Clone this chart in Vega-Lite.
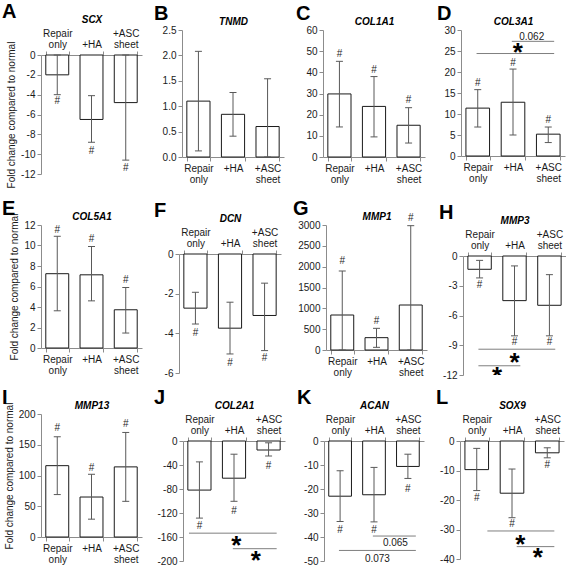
{
"$schema": "https://vega.github.io/schema/vega-lite/v6.json",
"background": "white",
"padding": {"left": 2, "top": 2, "right": 0, "bottom": 0},
"spacing": 8,
"vconcat": [
{"spacing": 11, "vconcat": [
{"spacing": 12, "hconcat": [
{"width": 101, "height": 144, "title": {"text": "A", "dx": -39},
 "resolve": {"axis": {"x": "independent", "y": "independent"}},
 "data": {"values": [
  {"g": "Repair only", "v": -2.0, "lo": -4.0, "hi": 0, "h": -4.6},
  {"g": "+HA", "v": -6.5, "lo": -8.8, "hi": -4.1, "h": -9.7},
  {"g": "+ASC sheet", "v": -4.8, "lo": -10.6, "hi": 0, "h": -11.4}]},
 "encoding": {"x": {"field": "g", "type": "nominal", "scale": {"domain": ["Repair only", "+HA", "+ASC sheet"], "paddingInner": 0.33, "paddingOuter": 0.14}, "axis": null}},
 "layer": [
  {"mark": {"type": "bar", "fill": "white", "stroke": "#1a1a1a", "strokeWidth": 1},
   "encoding": {"x": {"field": "g", "type": "nominal", "scale": {"domain": ["Repair only", "+HA", "+ASC sheet"], "paddingInner": 0.33, "paddingOuter": 0.14}, "axis": {"orient": "top", "offset": -25, "title": "SCX", "labelPadding": 13, "labelExpr": "datum.label == '+HA' ? ['', '+HA'] : split(datum.label, ' ')"}},
    "y": {"field": "v", "type": "quantitative", "scale": {"domain": [-12, 0], "nice": false, "range": [144, 25]}, "axis": {"values": [0, -2, -4, -6, -8, -10, -12], "labelExpr": "toString(datum.value)", "title": "Fold change compared to normal"}}}},
  {"mark": {"type": "rule", "color": "#595959", "strokeWidth": 1},
   "encoding": {"y": {"field": "lo", "type": "quantitative", "scale": {"domain": [-12, 0], "nice": false, "range": [144, 25]}, "axis": null}, "y2": {"field": "hi"}}},
  {"mark": {"type": "tick", "color": "#595959", "size": 7, "thickness": 1, "opacity": 1},
   "encoding": {"y": {"field": "lo", "type": "quantitative", "scale": {"domain": [-12, 0], "nice": false, "range": [144, 25]}, "axis": null}}},
  {"mark": {"type": "tick", "color": "#595959", "size": 7, "thickness": 1, "opacity": 1},
   "encoding": {"y": {"field": "hi", "type": "quantitative", "scale": {"domain": [-12, 0], "nice": false, "range": [144, 25]}, "axis": null}}},
  {"mark": {"type": "text", "fontSize": 10, "color": "#262626"},
   "encoding": {"y": {"field": "h", "type": "quantitative", "scale": {"domain": [-12, 0], "nice": false, "range": [144, 25]}, "axis": null}, "text": {"value": "#"}}}
 ]},
{"width": 102, "height": 127, "title": {"text": "B", "dx": -28},
 "resolve": {"axis": {"x": "independent", "y": "independent"}},
 "data": {"values": [
  {"g": "Repair only", "v": 1.1, "lo": 0.12, "hi": 2.08},
  {"g": "+HA", "v": 0.84, "lo": 0.41, "hi": 1.27},
  {"g": "+ASC sheet", "v": 0.6, "lo": 0, "hi": 1.54}]},
 "encoding": {"x": {"field": "g", "type": "nominal", "scale": {"domain": ["Repair only", "+HA", "+ASC sheet"], "paddingInner": 0.33, "paddingOuter": 0.14}, "axis": null}},
 "layer": [
  {"mark": {"type": "bar", "fill": "white", "stroke": "#1a1a1a", "strokeWidth": 1},
   "encoding": {"x": {"field": "g", "type": "nominal", "scale": {"domain": ["Repair only", "+HA", "+ASC sheet"], "paddingInner": 0.33, "paddingOuter": 0.14}, "axis": {"orient": "bottom", "title": null, "labelExpr": "split(datum.label, ' ')"}},
    "y": {"field": "v", "type": "quantitative", "scale": {"domain": [0, 2.5], "nice": false}, "axis": {"values": [0, 0.5, 1, 1.5, 2, 2.5], "labelExpr": "format(datum.value, '.1f')", "title": null}}}},
  {"mark": {"type": "rule", "color": "#595959", "strokeWidth": 1},
   "encoding": {"x": {"field": "g", "type": "nominal", "scale": {"domain": ["Repair only", "+HA", "+ASC sheet"], "paddingInner": 0.33, "paddingOuter": 0.14}, "axis": {"orient": "top", "title": "TNMD", "labels": false, "ticks": false, "domain": false}},
    "y": {"field": "lo", "type": "quantitative", "scale": {"domain": [0, 2.5], "nice": false}, "axis": null}, "y2": {"field": "hi"}}},
  {"mark": {"type": "tick", "color": "#595959", "size": 7, "thickness": 1, "opacity": 1},
   "encoding": {"y": {"field": "lo", "type": "quantitative", "scale": {"domain": [0, 2.5], "nice": false}, "axis": null}}},
  {"mark": {"type": "tick", "color": "#595959", "size": 7, "thickness": 1, "opacity": 1},
   "encoding": {"y": {"field": "hi", "type": "quantitative", "scale": {"domain": [0, 2.5], "nice": false}, "axis": null}}}
 ]},
{"width": 102, "height": 127, "title": {"text": "C", "dx": -27},
 "resolve": {"axis": {"x": "independent", "y": "independent"}},
 "data": {"values": [
  {"g": "Repair only", "v": 29.8, "lo": 14.2, "hi": 45.2, "h": 48.8},
  {"g": "+HA", "v": 23.9, "lo": 9.5, "hi": 38.0, "h": 41.3},
  {"g": "+ASC sheet", "v": 15.0, "lo": 6.6, "hi": 23.3, "h": 26.7}]},
 "encoding": {"x": {"field": "g", "type": "nominal", "scale": {"domain": ["Repair only", "+HA", "+ASC sheet"], "paddingInner": 0.33, "paddingOuter": 0.14}, "axis": null}},
 "layer": [
  {"mark": {"type": "bar", "fill": "white", "stroke": "#1a1a1a", "strokeWidth": 1},
   "encoding": {"x": {"field": "g", "type": "nominal", "scale": {"domain": ["Repair only", "+HA", "+ASC sheet"], "paddingInner": 0.33, "paddingOuter": 0.14}, "axis": {"orient": "bottom", "title": null, "labelExpr": "split(datum.label, ' ')"}},
    "y": {"field": "v", "type": "quantitative", "scale": {"domain": [0, 60], "nice": false}, "axis": {"values": [0, 10, 20, 30, 40, 50, 60], "labelExpr": "toString(datum.value)", "title": null}}}},
  {"mark": {"type": "rule", "color": "#595959", "strokeWidth": 1},
   "encoding": {"x": {"field": "g", "type": "nominal", "scale": {"domain": ["Repair only", "+HA", "+ASC sheet"], "paddingInner": 0.33, "paddingOuter": 0.14}, "axis": {"orient": "top", "title": "COL1A1", "labels": false, "ticks": false, "domain": false}},
    "y": {"field": "lo", "type": "quantitative", "scale": {"domain": [0, 60], "nice": false}, "axis": null}, "y2": {"field": "hi"}}},
  {"mark": {"type": "tick", "color": "#595959", "size": 7, "thickness": 1, "opacity": 1},
   "encoding": {"y": {"field": "lo", "type": "quantitative", "scale": {"domain": [0, 60], "nice": false}, "axis": null}}},
  {"mark": {"type": "tick", "color": "#595959", "size": 7, "thickness": 1, "opacity": 1},
   "encoding": {"y": {"field": "hi", "type": "quantitative", "scale": {"domain": [0, 60], "nice": false}, "axis": null}}},
  {"mark": {"type": "text", "fontSize": 10, "color": "#262626"},
   "encoding": {"y": {"field": "h", "type": "quantitative", "scale": {"domain": [0, 60], "nice": false}, "axis": null}, "text": {"value": "#"}}}
 ]},
{"width": 104, "height": 126, "title": {"text": "D", "dx": -24},
 "resolve": {"axis": {"x": "independent", "y": "independent"}},
 "data": {"values": [
  {"g": "Repair only", "v": 11.4, "lo": 6.9, "hi": 15.8, "h": 17.5},
  {"g": "+HA", "v": 12.8, "lo": 5.0, "hi": 20.7, "h": 22.2},
  {"g": "+ASC sheet", "v": 5.2, "lo": 3.2, "hi": 6.9, "h": 8.5}]},
 "encoding": {"x": {"field": "g", "type": "nominal", "scale": {"domain": ["Repair only", "+HA", "+ASC sheet"], "paddingInner": 0.33, "paddingOuter": 0.14}, "axis": null}},
 "layer": [
  {"mark": {"type": "bar", "fill": "white", "stroke": "#1a1a1a", "strokeWidth": 1},
   "encoding": {"x": {"field": "g", "type": "nominal", "scale": {"domain": ["Repair only", "+HA", "+ASC sheet"], "paddingInner": 0.33, "paddingOuter": 0.14}, "axis": {"orient": "bottom", "title": null, "labelExpr": "split(datum.label, ' ')"}},
    "y": {"field": "v", "type": "quantitative", "scale": {"domain": [0, 30], "nice": false}, "axis": {"values": [0, 5, 10, 15, 20, 25, 30], "labelExpr": "toString(datum.value)", "title": null}}}},
  {"mark": {"type": "rule", "color": "#595959", "strokeWidth": 1},
   "encoding": {"x": {"field": "g", "type": "nominal", "scale": {"domain": ["Repair only", "+HA", "+ASC sheet"], "paddingInner": 0.33, "paddingOuter": 0.14}, "axis": {"orient": "top", "title": "COL3A1", "labels": false, "ticks": false, "domain": false}},
    "y": {"field": "lo", "type": "quantitative", "scale": {"domain": [0, 30], "nice": false}, "axis": null}, "y2": {"field": "hi"}}},
  {"mark": {"type": "tick", "color": "#595959", "size": 7, "thickness": 1, "opacity": 1},
   "encoding": {"y": {"field": "lo", "type": "quantitative", "scale": {"domain": [0, 30], "nice": false}, "axis": null}}},
  {"mark": {"type": "tick", "color": "#595959", "size": 7, "thickness": 1, "opacity": 1},
   "encoding": {"y": {"field": "hi", "type": "quantitative", "scale": {"domain": [0, 30], "nice": false}, "axis": null}}},
  {"mark": {"type": "text", "fontSize": 10, "color": "#262626"},
   "encoding": {"y": {"field": "h", "type": "quantitative", "scale": {"domain": [0, 30], "nice": false}, "axis": null}, "text": {"value": "#"}}},
  {"data": {"values": [{"a": "Repair only", "b": "+ASC sheet", "y": 24.4}, {"a": "+HA", "b": "+ASC sheet", "y": 27.3}]},
   "mark": {"type": "rule", "color": "#7f7f7f", "strokeWidth": 1},
   "encoding": {"x": {"field": "a", "type": "nominal", "scale": {"domain": ["Repair only", "+HA", "+ASC sheet"], "paddingInner": 0.33, "paddingOuter": 0.14}, "axis": null, "bandPosition": 0.45}, "x2": {"field": "b", "bandPosition": 0.75},
    "y": {"field": "y", "type": "quantitative", "scale": {"domain": [0, 30], "nice": false}, "axis": null}}},
  {"data": {"values": [{"a": "+HA", "y": 25.9, "t": "*"}]},
   "mark": {"type": "text", "fontSize": 26, "fontWeight": "bold", "dy": 6, "color": "#000000"},
   "encoding": {"x": {"field": "a", "type": "nominal", "scale": {"domain": ["Repair only", "+HA", "+ASC sheet"], "paddingInner": 0.33, "paddingOuter": 0.14}, "axis": null, "bandPosition": 0.7},
    "y": {"field": "y", "type": "quantitative", "scale": {"domain": [0, 30], "nice": false}, "axis": null}, "text": {"field": "t"}}},
  {"data": {"values": [{"a": "+ASC sheet", "y": 28.4, "t": "0.062"}]},
   "mark": {"type": "text", "fontSize": 10, "color": "#1a1a1a"},
   "encoding": {"x": {"field": "a", "type": "nominal", "scale": {"domain": ["Repair only", "+HA", "+ASC sheet"], "paddingInner": 0.33, "paddingOuter": 0.14}, "axis": null, "bandPosition": -0.2},
    "y": {"field": "y", "type": "quantitative", "scale": {"domain": [0, 30], "nice": false}, "axis": null}, "text": {"field": "t"}}}
 ]}
]},
{"spacing": 12, "hconcat": [
{"width": 101, "height": 123, "title": {"text": "E", "dx": -39},
 "resolve": {"axis": {"x": "independent", "y": "independent"}},
 "data": {"values": [
  {"g": "Repair only", "v": 7.25, "lo": 3.63, "hi": 10.9, "h": 11.5},
  {"g": "+HA", "v": 7.14, "lo": 4.6, "hi": 9.9, "h": 10.6},
  {"g": "+ASC sheet", "v": 3.73, "lo": 1.46, "hi": 5.9, "h": 6.6}]},
 "encoding": {"x": {"field": "g", "type": "nominal", "scale": {"domain": ["Repair only", "+HA", "+ASC sheet"], "paddingInner": 0.33, "paddingOuter": 0.14}, "axis": null}},
 "layer": [
  {"mark": {"type": "bar", "fill": "white", "stroke": "#1a1a1a", "strokeWidth": 1},
   "encoding": {"x": {"field": "g", "type": "nominal", "scale": {"domain": ["Repair only", "+HA", "+ASC sheet"], "paddingInner": 0.33, "paddingOuter": 0.14}, "axis": {"orient": "bottom", "title": null, "labelExpr": "split(datum.label, ' ')"}},
    "y": {"field": "v", "type": "quantitative", "scale": {"domain": [0, 12], "nice": false}, "axis": {"values": [0, 2, 4, 6, 8, 10, 12], "labelExpr": "toString(datum.value)", "title": "Fold change compared to normal"}}}},
  {"mark": {"type": "rule", "color": "#595959", "strokeWidth": 1},
   "encoding": {"x": {"field": "g", "type": "nominal", "scale": {"domain": ["Repair only", "+HA", "+ASC sheet"], "paddingInner": 0.33, "paddingOuter": 0.14}, "axis": {"orient": "top", "title": "COL5A1", "labels": false, "ticks": false, "domain": false}},
    "y": {"field": "lo", "type": "quantitative", "scale": {"domain": [0, 12], "nice": false}, "axis": null}, "y2": {"field": "hi"}}},
  {"mark": {"type": "tick", "color": "#595959", "size": 7, "thickness": 1, "opacity": 1},
   "encoding": {"y": {"field": "lo", "type": "quantitative", "scale": {"domain": [0, 12], "nice": false}, "axis": null}}},
  {"mark": {"type": "tick", "color": "#595959", "size": 7, "thickness": 1, "opacity": 1},
   "encoding": {"y": {"field": "hi", "type": "quantitative", "scale": {"domain": [0, 12], "nice": false}, "axis": null}}},
  {"mark": {"type": "text", "fontSize": 10, "color": "#262626"},
   "encoding": {"y": {"field": "h", "type": "quantitative", "scale": {"domain": [0, 12], "nice": false}, "axis": null}, "text": {"value": "#"}}}
 ]},
{"width": 102, "height": 148, "title": {"text": "F", "dx": -25},
 "resolve": {"axis": {"x": "independent", "y": "independent"}},
 "data": {"values": [
  {"g": "Repair only", "v": -2.73, "lo": -3.53, "hi": -1.93, "h": -4.0},
  {"g": "+HA", "v": -3.74, "lo": -5.04, "hi": -2.43, "h": -5.5},
  {"g": "+ASC sheet", "v": -3.1, "lo": -4.87, "hi": -1.47, "h": -5.25}]},
 "encoding": {"x": {"field": "g", "type": "nominal", "scale": {"domain": ["Repair only", "+HA", "+ASC sheet"], "paddingInner": 0.33, "paddingOuter": 0.14}, "axis": null}},
 "layer": [
  {"mark": {"type": "bar", "fill": "white", "stroke": "#1a1a1a", "strokeWidth": 1},
   "encoding": {"x": {"field": "g", "type": "nominal", "scale": {"domain": ["Repair only", "+HA", "+ASC sheet"], "paddingInner": 0.33, "paddingOuter": 0.14}, "axis": {"orient": "top", "offset": -29, "title": "DCN", "labelPadding": 13, "labelExpr": "datum.label == '+HA' ? ['', '+HA'] : split(datum.label, ' ')"}},
    "y": {"field": "v", "type": "quantitative", "scale": {"domain": [-6, 0], "nice": false, "range": [148, 29]}, "axis": {"values": [0, -2, -4, -6], "labelExpr": "toString(datum.value)", "title": null}}}},
  {"mark": {"type": "rule", "color": "#595959", "strokeWidth": 1},
   "encoding": {"y": {"field": "lo", "type": "quantitative", "scale": {"domain": [-6, 0], "nice": false, "range": [148, 29]}, "axis": null}, "y2": {"field": "hi"}}},
  {"mark": {"type": "tick", "color": "#595959", "size": 7, "thickness": 1, "opacity": 1},
   "encoding": {"y": {"field": "lo", "type": "quantitative", "scale": {"domain": [-6, 0], "nice": false, "range": [148, 29]}, "axis": null}}},
  {"mark": {"type": "tick", "color": "#595959", "size": 7, "thickness": 1, "opacity": 1},
   "encoding": {"y": {"field": "hi", "type": "quantitative", "scale": {"domain": [-6, 0], "nice": false, "range": [148, 29]}, "axis": null}}},
  {"mark": {"type": "text", "fontSize": 10, "color": "#262626"},
   "encoding": {"y": {"field": "h", "type": "quantitative", "scale": {"domain": [-6, 0], "nice": false, "range": [148, 29]}, "axis": null}, "text": {"value": "#"}}}
 ]},
{"width": 101, "height": 125, "title": {"text": "G", "dx": -33},
 "resolve": {"axis": {"x": "independent", "y": "independent"}},
 "data": {"values": [
  {"g": "Repair only", "v": 840, "lo": 0, "hi": 1896, "h": 2136},
  {"g": "+HA", "v": 296, "lo": 64, "hi": 520, "h": 700},
  {"g": "+ASC sheet", "v": 1080, "lo": 0, "hi": 2984, "h": 3170}]},
 "encoding": {"x": {"field": "g", "type": "nominal", "scale": {"domain": ["Repair only", "+HA", "+ASC sheet"], "paddingInner": 0.33, "paddingOuter": 0.14}, "axis": null}},
 "layer": [
  {"mark": {"type": "bar", "fill": "white", "stroke": "#1a1a1a", "strokeWidth": 1},
   "encoding": {"x": {"field": "g", "type": "nominal", "scale": {"domain": ["Repair only", "+HA", "+ASC sheet"], "paddingInner": 0.33, "paddingOuter": 0.14}, "axis": {"orient": "bottom", "title": null, "labelExpr": "split(datum.label, ' ')"}},
    "y": {"field": "v", "type": "quantitative", "scale": {"domain": [0, 3000], "nice": false}, "axis": {"values": [0, 500, 1000, 1500, 2000, 2500, 3000], "labelExpr": "toString(datum.value)", "title": null}}}},
  {"mark": {"type": "rule", "color": "#595959", "strokeWidth": 1},
   "encoding": {"x": {"field": "g", "type": "nominal", "scale": {"domain": ["Repair only", "+HA", "+ASC sheet"], "paddingInner": 0.33, "paddingOuter": 0.14}, "axis": {"orient": "top", "title": "MMP1", "labels": false, "ticks": false, "domain": false}},
    "y": {"field": "lo", "type": "quantitative", "scale": {"domain": [0, 3000], "nice": false}, "axis": null}, "y2": {"field": "hi"}}},
  {"mark": {"type": "tick", "color": "#595959", "size": 7, "thickness": 1, "opacity": 1},
   "encoding": {"y": {"field": "lo", "type": "quantitative", "scale": {"domain": [0, 3000], "nice": false}, "axis": null}}},
  {"mark": {"type": "tick", "color": "#595959", "size": 7, "thickness": 1, "opacity": 1},
   "encoding": {"y": {"field": "hi", "type": "quantitative", "scale": {"domain": [0, 3000], "nice": false}, "axis": null}}},
  {"mark": {"type": "text", "fontSize": 10, "color": "#262626"},
   "encoding": {"y": {"field": "h", "type": "quantitative", "scale": {"domain": [0, 3000], "nice": false}, "axis": null}, "text": {"value": "#"}}}
 ]},
{"width": 103, "height": 150, "title": {"text": "H", "dx": -24},
 "resolve": {"axis": {"x": "independent", "y": "independent"}},
 "data": {"values": [
  {"g": "Repair only", "v": -1.34, "lo": -2.21, "hi": -0.44, "h": -2.95},
  {"g": "+HA", "v": -4.5, "lo": -8.05, "hi": -1.0, "h": -8.7},
  {"g": "+ASC sheet", "v": -4.97, "lo": -8.05, "hi": -1.88, "h": -8.7}]},
 "encoding": {"x": {"field": "g", "type": "nominal", "scale": {"domain": ["Repair only", "+HA", "+ASC sheet"], "paddingInner": 0.33, "paddingOuter": 0.14}, "axis": null}},
 "layer": [
  {"mark": {"type": "bar", "fill": "white", "stroke": "#1a1a1a", "strokeWidth": 1},
   "encoding": {"x": {"field": "g", "type": "nominal", "scale": {"domain": ["Repair only", "+HA", "+ASC sheet"], "paddingInner": 0.33, "paddingOuter": 0.14}, "axis": {"orient": "top", "offset": -31, "title": "MMP3", "labelPadding": 13, "labelExpr": "datum.label == '+HA' ? ['', '+HA'] : split(datum.label, ' ')"}},
    "y": {"field": "v", "type": "quantitative", "scale": {"domain": [-12, 0], "nice": false, "range": [150, 31]}, "axis": {"values": [0, -3, -6, -9, -12], "labelExpr": "toString(datum.value)", "title": null}}}},
  {"mark": {"type": "rule", "color": "#595959", "strokeWidth": 1},
   "encoding": {"y": {"field": "lo", "type": "quantitative", "scale": {"domain": [-12, 0], "nice": false, "range": [150, 31]}, "axis": null}, "y2": {"field": "hi"}}},
  {"mark": {"type": "tick", "color": "#595959", "size": 7, "thickness": 1, "opacity": 1},
   "encoding": {"y": {"field": "lo", "type": "quantitative", "scale": {"domain": [-12, 0], "nice": false, "range": [150, 31]}, "axis": null}}},
  {"mark": {"type": "tick", "color": "#595959", "size": 7, "thickness": 1, "opacity": 1},
   "encoding": {"y": {"field": "hi", "type": "quantitative", "scale": {"domain": [-12, 0], "nice": false, "range": [150, 31]}, "axis": null}}},
  {"mark": {"type": "text", "fontSize": 10, "color": "#262626"},
   "encoding": {"y": {"field": "h", "type": "quantitative", "scale": {"domain": [-12, 0], "nice": false, "range": [150, 31]}, "axis": null}, "text": {"value": "#"}}},
  {"data": {"values": [{"a": "Repair only", "b": "+ASC sheet", "y": -9.4}, {"a": "Repair only", "b": "+HA", "y": -11.07}]},
   "mark": {"type": "rule", "color": "#7f7f7f", "strokeWidth": 1},
   "encoding": {"x": {"field": "a", "type": "nominal", "scale": {"domain": ["Repair only", "+HA", "+ASC sheet"], "paddingInner": 0.33, "paddingOuter": 0.14}, "axis": null, "bandPosition": 0.45}, "x2": {"field": "b", "bandPosition": 0.75},
    "y": {"field": "y", "type": "quantitative", "scale": {"domain": [-12, 0], "nice": false, "range": [150, 31]}, "axis": null}}},
  {"data": {"values": [{"a": "+HA", "y": -10.2, "t": "*"}]},
   "mark": {"type": "text", "fontSize": 26, "fontWeight": "bold", "dy": 6, "color": "#000000", "clip": true},
   "encoding": {"x": {"field": "a", "type": "nominal", "scale": {"domain": ["Repair only", "+HA", "+ASC sheet"], "paddingInner": 0.33, "paddingOuter": 0.14}, "axis": null, "bandPosition": 0.5},
    "y": {"field": "y", "type": "quantitative", "scale": {"domain": [-12, 0], "nice": false, "range": [150, 31]}, "axis": null}, "text": {"field": "t"}}},
  {"data": {"values": [{"a": "+HA", "y": -11.6, "t": "*"}]},
   "mark": {"type": "text", "fontSize": 26, "fontWeight": "bold", "dy": 6, "color": "#000000", "clip": true},
   "encoding": {"x": {"field": "a", "type": "nominal", "scale": {"domain": ["Repair only", "+HA", "+ASC sheet"], "paddingInner": 0.33, "paddingOuter": 0.14}, "axis": null, "bandPosition": -0.25},
    "y": {"field": "y", "type": "quantitative", "scale": {"domain": [-12, 0], "nice": false, "range": [150, 31]}, "axis": null}, "text": {"field": "t"}}}
 ]}
]}
]},
{"spacing": 12, "hconcat": [
{"width": 101, "height": 123, "title": {"text": "I", "dx": -39},
 "resolve": {"axis": {"x": "independent", "y": "independent"}},
 "data": {"values": [
  {"g": "Repair only", "v": 116, "lo": 69, "hi": 163, "h": 178},
  {"g": "+HA", "v": 65, "lo": 29, "hi": 102, "h": 113},
  {"g": "+ASC sheet", "v": 114, "lo": 58, "hi": 170, "h": 183}]},
 "encoding": {"x": {"field": "g", "type": "nominal", "scale": {"domain": ["Repair only", "+HA", "+ASC sheet"], "paddingInner": 0.33, "paddingOuter": 0.14}, "axis": null}},
 "layer": [
  {"mark": {"type": "bar", "fill": "white", "stroke": "#1a1a1a", "strokeWidth": 1},
   "encoding": {"x": {"field": "g", "type": "nominal", "scale": {"domain": ["Repair only", "+HA", "+ASC sheet"], "paddingInner": 0.33, "paddingOuter": 0.14}, "axis": {"orient": "bottom", "title": null, "labelExpr": "split(datum.label, ' ')"}},
    "y": {"field": "v", "type": "quantitative", "scale": {"domain": [0, 200], "nice": false}, "axis": {"values": [0, 50, 100, 150, 200], "labelExpr": "toString(datum.value)", "title": "Fold change compared to normal"}}}},
  {"mark": {"type": "rule", "color": "#595959", "strokeWidth": 1},
   "encoding": {"x": {"field": "g", "type": "nominal", "scale": {"domain": ["Repair only", "+HA", "+ASC sheet"], "paddingInner": 0.33, "paddingOuter": 0.14}, "axis": {"orient": "top", "title": "MMP13", "labels": false, "ticks": false, "domain": false}},
    "y": {"field": "lo", "type": "quantitative", "scale": {"domain": [0, 200], "nice": false}, "axis": null}, "y2": {"field": "hi"}}},
  {"mark": {"type": "tick", "color": "#595959", "size": 7, "thickness": 1, "opacity": 1},
   "encoding": {"y": {"field": "lo", "type": "quantitative", "scale": {"domain": [0, 200], "nice": false}, "axis": null}}},
  {"mark": {"type": "tick", "color": "#595959", "size": 7, "thickness": 1, "opacity": 1},
   "encoding": {"y": {"field": "hi", "type": "quantitative", "scale": {"domain": [0, 200], "nice": false}, "axis": null}}},
  {"mark": {"type": "text", "fontSize": 10, "color": "#262626"},
   "encoding": {"y": {"field": "h", "type": "quantitative", "scale": {"domain": [0, 200], "nice": false}, "axis": null}, "text": {"value": "#"}}}
 ]},
{"width": 102, "height": 147, "title": {"text": "J", "dx": -29},
 "resolve": {"axis": {"x": "independent", "y": "independent"}},
 "data": {"values": [
  {"g": "Repair only", "v": -81.8, "lo": -128.5, "hi": -34.8, "h": -142},
  {"g": "+HA", "v": -62, "lo": -100.5, "hi": -22, "h": -116},
  {"g": "+ASC sheet", "v": -15, "lo": -25, "hi": -3, "h": -41}]},
 "encoding": {"x": {"field": "g", "type": "nominal", "scale": {"domain": ["Repair only", "+HA", "+ASC sheet"], "paddingInner": 0.33, "paddingOuter": 0.14}, "axis": null}},
 "layer": [
  {"mark": {"type": "bar", "fill": "white", "stroke": "#1a1a1a", "strokeWidth": 1},
   "encoding": {"x": {"field": "g", "type": "nominal", "scale": {"domain": ["Repair only", "+HA", "+ASC sheet"], "paddingInner": 0.33, "paddingOuter": 0.14}, "axis": {"orient": "top", "offset": -27, "title": "COL2A1", "labelPadding": 13, "labelExpr": "datum.label == '+HA' ? ['', '+HA'] : split(datum.label, ' ')"}},
    "y": {"field": "v", "type": "quantitative", "scale": {"domain": [-200, 0], "nice": false, "range": [147, 27]}, "axis": {"values": [0, -40, -80, -120, -160, -200], "labelExpr": "toString(datum.value)", "title": null}}}},
  {"mark": {"type": "rule", "color": "#595959", "strokeWidth": 1},
   "encoding": {"y": {"field": "lo", "type": "quantitative", "scale": {"domain": [-200, 0], "nice": false, "range": [147, 27]}, "axis": null}, "y2": {"field": "hi"}}},
  {"mark": {"type": "tick", "color": "#595959", "size": 7, "thickness": 1, "opacity": 1},
   "encoding": {"y": {"field": "lo", "type": "quantitative", "scale": {"domain": [-200, 0], "nice": false, "range": [147, 27]}, "axis": null}}},
  {"mark": {"type": "tick", "color": "#595959", "size": 7, "thickness": 1, "opacity": 1},
   "encoding": {"y": {"field": "hi", "type": "quantitative", "scale": {"domain": [-200, 0], "nice": false, "range": [147, 27]}, "axis": null}}},
  {"mark": {"type": "text", "fontSize": 10, "color": "#262626"},
   "encoding": {"y": {"field": "h", "type": "quantitative", "scale": {"domain": [-200, 0], "nice": false, "range": [147, 27]}, "axis": null}, "text": {"value": "#"}}},
  {"data": {"values": [{"a": "Repair only", "b": "+ASC sheet", "y": -153.6}]},
   "mark": {"type": "rule", "color": "#7f7f7f", "strokeWidth": 1},
   "encoding": {"x": {"field": "a", "type": "nominal", "scale": {"domain": ["Repair only", "+HA", "+ASC sheet"], "paddingInner": 0.33, "paddingOuter": 0.14}, "axis": null, "bandPosition": 0.05}, "x2": {"field": "b", "bandPosition": 0.85},
    "y": {"field": "y", "type": "quantitative", "scale": {"domain": [-200, 0], "nice": false, "range": [147, 27]}, "axis": null}}},
  {"data": {"values": [{"a": "+HA", "b": "+ASC sheet", "y": -179.5}]},
   "mark": {"type": "rule", "color": "#7f7f7f", "strokeWidth": 1},
   "encoding": {"x": {"field": "a", "type": "nominal", "scale": {"domain": ["Repair only", "+HA", "+ASC sheet"], "paddingInner": 0.33, "paddingOuter": 0.14}, "axis": null, "bandPosition": 0.45}, "x2": {"field": "b", "bandPosition": 0.85},
    "y": {"field": "y", "type": "quantitative", "scale": {"domain": [-200, 0], "nice": false, "range": [147, 27]}, "axis": null}}},
  {"data": {"values": [{"a": "+HA", "y": -165.7, "t": "*"}]},
   "mark": {"type": "text", "fontSize": 26, "fontWeight": "bold", "dy": 6, "color": "#000000"},
   "encoding": {"x": {"field": "a", "type": "nominal", "scale": {"domain": ["Repair only", "+HA", "+ASC sheet"], "paddingInner": 0.33, "paddingOuter": 0.14}, "axis": null, "bandPosition": 0.6},
    "y": {"field": "y", "type": "quantitative", "scale": {"domain": [-200, 0], "nice": false, "range": [147, 27]}, "axis": null}, "text": {"field": "t"}}},
  {"data": {"values": [{"a": "+ASC sheet", "y": -190, "t": "*"}]},
   "mark": {"type": "text", "fontSize": 26, "fontWeight": "bold", "dy": 6, "color": "#000000"},
   "encoding": {"x": {"field": "a", "type": "nominal", "scale": {"domain": ["Repair only", "+HA", "+ASC sheet"], "paddingInner": 0.33, "paddingOuter": 0.14}, "axis": null, "bandPosition": -0.05},
    "y": {"field": "y", "type": "quantitative", "scale": {"domain": [-200, 0], "nice": false, "range": [147, 27]}, "axis": null}, "text": {"field": "t"}}}
 ]},
{"width": 100, "height": 147, "title": {"text": "K", "dx": -27},
 "resolve": {"axis": {"x": "independent", "y": "independent"}},
 "data": {"values": [
  {"g": "Repair only", "v": -23, "lo": -33.5, "hi": -12.4, "h": -37},
  {"g": "+HA", "v": -22.4, "lo": -33.7, "hi": -11, "h": -37},
  {"g": "+ASC sheet", "v": -10.6, "lo": -15.6, "hi": -5.5, "h": -20}]},
 "encoding": {"x": {"field": "g", "type": "nominal", "scale": {"domain": ["Repair only", "+HA", "+ASC sheet"], "paddingInner": 0.33, "paddingOuter": 0.14}, "axis": null}},
 "layer": [
  {"mark": {"type": "bar", "fill": "white", "stroke": "#1a1a1a", "strokeWidth": 1},
   "encoding": {"x": {"field": "g", "type": "nominal", "scale": {"domain": ["Repair only", "+HA", "+ASC sheet"], "paddingInner": 0.33, "paddingOuter": 0.14}, "axis": {"orient": "top", "offset": -27, "title": "ACAN", "labelPadding": 13, "labelExpr": "datum.label == '+HA' ? ['', '+HA'] : split(datum.label, ' ')"}},
    "y": {"field": "v", "type": "quantitative", "scale": {"domain": [-50, 0], "nice": false, "range": [147, 27]}, "axis": {"values": [0, -10, -20, -30, -40, -50], "labelExpr": "toString(datum.value)", "title": null}}}},
  {"mark": {"type": "rule", "color": "#595959", "strokeWidth": 1},
   "encoding": {"y": {"field": "lo", "type": "quantitative", "scale": {"domain": [-50, 0], "nice": false, "range": [147, 27]}, "axis": null}, "y2": {"field": "hi"}}},
  {"mark": {"type": "tick", "color": "#595959", "size": 7, "thickness": 1, "opacity": 1},
   "encoding": {"y": {"field": "lo", "type": "quantitative", "scale": {"domain": [-50, 0], "nice": false, "range": [147, 27]}, "axis": null}}},
  {"mark": {"type": "tick", "color": "#595959", "size": 7, "thickness": 1, "opacity": 1},
   "encoding": {"y": {"field": "hi", "type": "quantitative", "scale": {"domain": [-50, 0], "nice": false, "range": [147, 27]}, "axis": null}}},
  {"mark": {"type": "text", "fontSize": 10, "color": "#262626"},
   "encoding": {"y": {"field": "h", "type": "quantitative", "scale": {"domain": [-50, 0], "nice": false, "range": [147, 27]}, "axis": null}, "text": {"value": "#"}}},
  {"data": {"values": [{"a": "+HA", "b": "+ASC sheet", "y": -39.6}, {"a": "Repair only", "b": "+ASC sheet", "y": -45.6}]},
   "mark": {"type": "rule", "color": "#7f7f7f", "strokeWidth": 1},
   "encoding": {"x": {"field": "a", "type": "nominal", "scale": {"domain": ["Repair only", "+HA", "+ASC sheet"], "paddingInner": 0.33, "paddingOuter": 0.14}, "axis": null, "bandPosition": 0.45}, "x2": {"field": "b", "bandPosition": 0.85},
    "y": {"field": "y", "type": "quantitative", "scale": {"domain": [-50, 0], "nice": false, "range": [147, 27]}, "axis": null}}},
  {"data": {"values": [{"a": "+ASC sheet", "y": -42.5, "t": "0.065"}]},
   "mark": {"type": "text", "fontSize": 10, "color": "#1a1a1a"},
   "encoding": {"x": {"field": "a", "type": "nominal", "scale": {"domain": ["Repair only", "+HA", "+ASC sheet"], "paddingInner": 0.33, "paddingOuter": 0.14}, "axis": null, "bandPosition": -0.05},
    "y": {"field": "y", "type": "quantitative", "scale": {"domain": [-50, 0], "nice": false, "range": [147, 27]}, "axis": null}, "text": {"field": "t"}}},
  {"data": {"values": [{"a": "+HA", "y": -49.3, "t": "0.073"}]},
   "mark": {"type": "text", "fontSize": 10, "color": "#1a1a1a"},
   "encoding": {"x": {"field": "a", "type": "nominal", "scale": {"domain": ["Repair only", "+HA", "+ASC sheet"], "paddingInner": 0.33, "paddingOuter": 0.14}, "axis": null, "bandPosition": 0.65},
    "y": {"field": "y", "type": "quantitative", "scale": {"domain": [-50, 0], "nice": false, "range": [147, 27]}, "axis": null}, "text": {"field": "t"}}}
 ]},
{"width": 104, "height": 145, "title": {"text": "L", "dx": -24},
 "resolve": {"axis": {"x": "independent", "y": "independent"}},
 "data": {"values": [
  {"g": "Repair only", "v": -9.7, "lo": -16.8, "hi": -2.5, "h": -19.2},
  {"g": "+HA", "v": -17.7, "lo": -26, "hi": -9.5, "h": -28.3},
  {"g": "+ASC sheet", "v": -4.0, "lo": -5.7, "hi": -2.3, "h": -8.2}]},
 "encoding": {"x": {"field": "g", "type": "nominal", "scale": {"domain": ["Repair only", "+HA", "+ASC sheet"], "paddingInner": 0.33, "paddingOuter": 0.14}, "axis": null}},
 "layer": [
  {"mark": {"type": "bar", "fill": "white", "stroke": "#1a1a1a", "strokeWidth": 1},
   "encoding": {"x": {"field": "g", "type": "nominal", "scale": {"domain": ["Repair only", "+HA", "+ASC sheet"], "paddingInner": 0.33, "paddingOuter": 0.14}, "axis": {"orient": "top", "offset": -27, "title": "SOX9", "labelPadding": 13, "labelExpr": "datum.label == '+HA' ? ['', '+HA'] : split(datum.label, ' ')"}},
    "y": {"field": "v", "type": "quantitative", "scale": {"domain": [-40, 0], "nice": false, "range": [145, 27]}, "axis": {"values": [0, -10, -20, -30, -40], "labelExpr": "toString(datum.value)", "title": null}}}},
  {"mark": {"type": "rule", "color": "#595959", "strokeWidth": 1},
   "encoding": {"y": {"field": "lo", "type": "quantitative", "scale": {"domain": [-40, 0], "nice": false, "range": [145, 27]}, "axis": null}, "y2": {"field": "hi"}}},
  {"mark": {"type": "tick", "color": "#595959", "size": 7, "thickness": 1, "opacity": 1},
   "encoding": {"y": {"field": "lo", "type": "quantitative", "scale": {"domain": [-40, 0], "nice": false, "range": [145, 27]}, "axis": null}}},
  {"mark": {"type": "tick", "color": "#595959", "size": 7, "thickness": 1, "opacity": 1},
   "encoding": {"y": {"field": "hi", "type": "quantitative", "scale": {"domain": [-40, 0], "nice": false, "range": [145, 27]}, "axis": null}}},
  {"mark": {"type": "text", "fontSize": 10, "color": "#262626"},
   "encoding": {"y": {"field": "h", "type": "quantitative", "scale": {"domain": [-40, 0], "nice": false, "range": [145, 27]}, "axis": null}, "text": {"value": "#"}}},
  {"data": {"values": [{"a": "Repair only", "b": "+ASC sheet", "y": -30.5}]},
   "mark": {"type": "rule", "color": "#7f7f7f", "strokeWidth": 1},
   "encoding": {"x": {"field": "a", "type": "nominal", "scale": {"domain": ["Repair only", "+HA", "+ASC sheet"], "paddingInner": 0.33, "paddingOuter": 0.14}, "axis": null, "bandPosition": 0.95}, "x2": {"field": "b", "bandPosition": 0.8},
    "y": {"field": "y", "type": "quantitative", "scale": {"domain": [-40, 0], "nice": false, "range": [145, 27]}, "axis": null}}},
  {"data": {"values": [{"a": "+HA", "b": "+ASC sheet", "y": -35.8}]},
   "mark": {"type": "rule", "color": "#7f7f7f", "strokeWidth": 1},
   "encoding": {"x": {"field": "a", "type": "nominal", "scale": {"domain": ["Repair only", "+HA", "+ASC sheet"], "paddingInner": 0.33, "paddingOuter": 0.14}, "axis": null, "bandPosition": 0.7}, "x2": {"field": "b", "bandPosition": 0.8},
    "y": {"field": "y", "type": "quantitative", "scale": {"domain": [-40, 0], "nice": false, "range": [145, 27]}, "axis": null}}},
  {"data": {"values": [{"a": "+HA", "y": -33.1, "t": "*"}]},
   "mark": {"type": "text", "fontSize": 26, "fontWeight": "bold", "dy": 6, "color": "#000000"},
   "encoding": {"x": {"field": "a", "type": "nominal", "scale": {"domain": ["Repair only", "+HA", "+ASC sheet"], "paddingInner": 0.33, "paddingOuter": 0.14}, "axis": null, "bandPosition": 0.85},
    "y": {"field": "y", "type": "quantitative", "scale": {"domain": [-40, 0], "nice": false, "range": [145, 27]}, "axis": null}, "text": {"field": "t"}}},
  {"data": {"values": [{"a": "+ASC sheet", "y": -37.7, "t": "*"}]},
   "mark": {"type": "text", "fontSize": 26, "fontWeight": "bold", "dy": 6, "color": "#000000"},
   "encoding": {"x": {"field": "a", "type": "nominal", "scale": {"domain": ["Repair only", "+HA", "+ASC sheet"], "paddingInner": 0.33, "paddingOuter": 0.14}, "axis": null, "bandPosition": 0.1},
    "y": {"field": "y", "type": "quantitative", "scale": {"domain": [-40, 0], "nice": false, "range": [145, 27]}, "axis": null}, "text": {"field": "t"}}}
 ]}
]}
],
"config": {
 "font": "Liberation Sans",
 "view": {"stroke": null},
 "axis": {"domainColor": "#8c8c8c", "tickColor": "#8c8c8c", "labelColor": "#1a1a1a", "labelFontSize": 10, "labelFont": "Liberation Sans", "titleFont": "Liberation Sans", "grid": false, "tickSize": 4, "labelPadding": 2, "titleFontSize": 10},
 "axisX": {"labelAngle": 0, "tickBand": "extent", "labelLineHeight": 11, "titleFontWeight": "bold", "titleFontStyle": "italic", "titlePadding": 4, "titleColor": "#000000"},
 "axisY": {"titleFontWeight": "normal", "titleColor": "#1a1a1a", "titlePadding": 4},
 "title": {"fontSize": 20, "fontWeight": "bold", "anchor": "start", "frame": "group", "baseline": "alphabetic", "offset": -8, "color": "#000000", "font": "Liberation Sans"},
 "text": {"font": "Liberation Sans"}
}
}
